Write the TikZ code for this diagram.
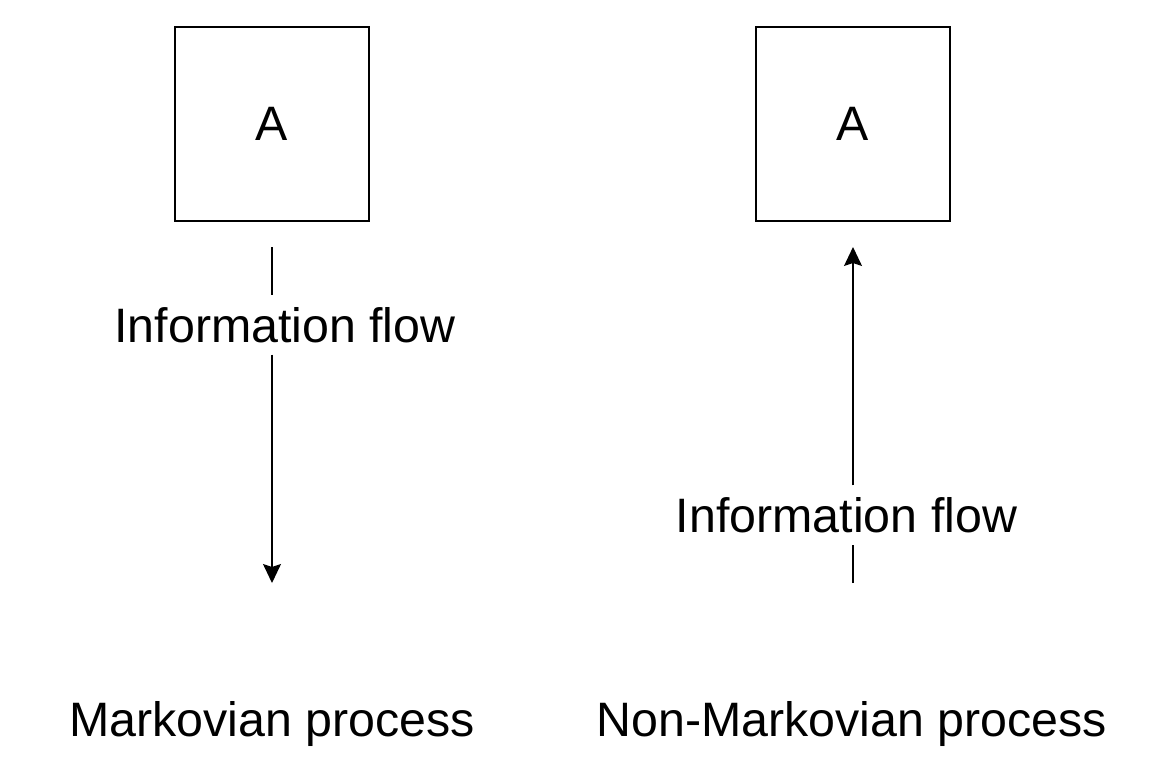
\documentclass[tikz,border=0pt]{standalone}
\usepackage{fontspec}
\setmainfont{Liberation Sans}
\usepackage{tikz}
\usetikzlibrary{arrows.meta, positioning}

\begin{document}
\begin{tikzpicture}[
          box/.style={rectangle, draw=black, line width=1.1pt, minimum width=3.88cm, minimum height=3.88cm, font=\fontsize{27.5}{32}\selectfont},
          flowlabel/.style={inner xsep=2pt, inner ysep=0.23cm, font=\fontsize{27.5}{32}\selectfont},
          caption/.style={font=\fontsize{27.5}{32}\selectfont},
          line/.style={line width=0.8pt, draw=black},
          flow/.style={line, -{Stealth[length=0.38cm, width=0.36cm, inset=0.06cm]}}
        ]
          \useasboundingbox (0,0) rectangle (23.1,-15.44);
          % Markovian side
          \node[box] (boxM) at (5.44,-2.48) {A};
          \coordinate (startM) at (5.44,-4.94);
          \coordinate (endM) at (5.44,-11.66);
          \node[flowlabel] (infoM) at (5.70,-6.50) {Information flow};
          \draw[line] (startM) -- (startM |- infoM.north);
          \draw[flow] (endM |- infoM.south) -- (endM);
          \node[caption] (capM) at (5.44,-14.48) {Markovian process};

          % Non-Markovian side
          \node[box] (boxN) at (17.06,-2.48) {A};
          \coordinate (startN) at (17.06,-11.66);
          \coordinate (endN) at (17.06,-4.94);
          \node[flowlabel] (infoN) at (16.93,-10.30) {Information flow};
          \draw[line] (startN) -- (startN |- infoN.south);
          \draw[flow] (endN |- infoN.north) -- (endN);
          \node[caption] (capN) at (17.04,-14.48) {Non-Markovian process};
        \end{tikzpicture}
\end{document}
